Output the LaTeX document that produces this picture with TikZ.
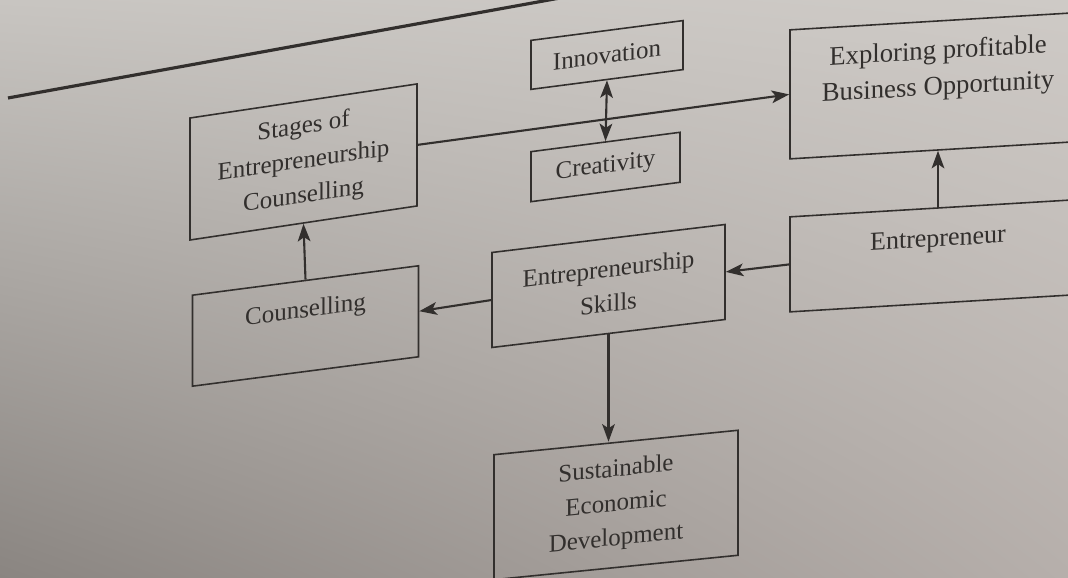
\documentclass[tikz,border=0pt]{standalone}
\usepackage{fontspec}
\setmainfont{Liberation Serif}
\usetikzlibrary{arrows.meta,shadings}

\definecolor{ink}{RGB}{50,47,45}
\definecolor{pageUL}{RGB}{200,197,193}
\definecolor{pageUR}{RGB}{206,202,198}
\definecolor{pageLL}{RGB}{138,133,129}
\definecolor{pageLR}{RGB}{182,175,171}

\tikzset{
  box/.style={draw=ink, line width=0.45pt, text=ink, align=center,
    font=\fontsize{7.1}{9.8}\selectfont, inner sep=0pt, yslant=#1},
  box/.default=0.13,
  flow/.style={->, draw=ink, line width=0.6pt},
}

\begin{document}
\begin{tikzpicture}[>={Stealth[length=5pt,width=3.6pt,inset=1.2pt]}]
\useasboundingbox (0,0) rectangle (10.68,5.78);
\shade[upper left=pageUL, upper right=pageUR, lower left=pageLL, lower right=pageLR]
  (0,0) rectangle (10.68,5.78);
\clip (0,0) rectangle (10.68,5.78);

% rule over the figure
\draw[ink, line width=0.9pt] (0.08,4.80) -- (5.60,5.80);

% left column
\node[box=0.15, minimum width=2.27cm, minimum height=1.22cm] (stages) at (3.035,4.16) {Stages of\\Entrepreneurship\\Counselling};
\node[box=0.13, minimum width=2.26cm, minimum height=0.91cm] (counselling) at (3.055,2.52) {Counselling\\~};

% middle column
\node[box=0.13, minimum width=1.52cm, minimum height=0.49cm] (innovation) at (6.07,5.23) {Innovation};
\node[box=0.13, minimum width=1.49cm, minimum height=0.50cm] (creativity) at (6.055,4.11) {Creativity};
\node[box=0.12, minimum width=2.33cm, minimum height=0.95cm] (skills) at (6.085,2.92) {Entrepreneurship\\Skills};
\node[box=0.10, minimum width=2.44cm, minimum height=1.25cm] (sustainable) at (6.16,0.73) {Sustainable\\Economic\\Development};

% right column (runs off the page)
\node[box=0.06, minimum width=2.96cm, minimum height=1.29cm, font=\fontsize{7.6}{10.2}\selectfont] (exploring) at (9.38,4.925) {Exploring profitable\\Business Opportunity\\~};
\node[box=0.06, minimum width=2.96cm, minimum height=0.95cm, font=\fontsize{7.4}{10}\selectfont] (entrepreneur) at (9.38,3.225) {Entrepreneur\\~};

% arrows
\draw[flow] (stages.east) -- (exploring.west);
\draw[flow, <->] (innovation.south) -- (creativity.north);
\draw[flow] (entrepreneur.north) -- (exploring.south);
\draw[flow] (entrepreneur.west) -- (skills.east);
\draw[flow] (skills.west) -- (counselling.east);
\draw[flow] (counselling.north) -- (stages.south);
\draw[flow] (skills.south) -- (skills.south |- sustainable.north);
\end{tikzpicture}
\end{document}
